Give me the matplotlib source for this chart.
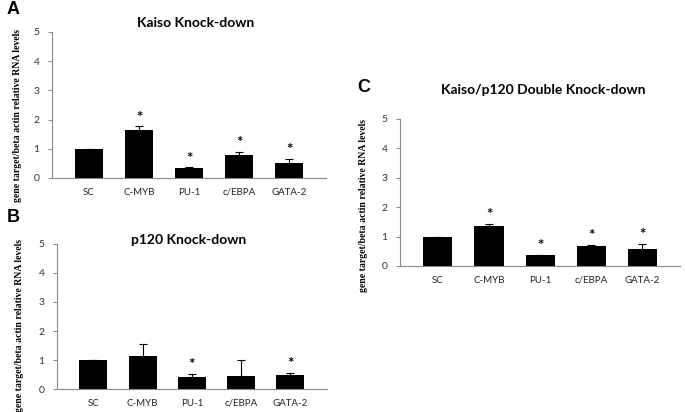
import matplotlib.pyplot as plt

genes = ['SC', 'C-MYB', 'PU-1', 'c/EBPA', 'GATA-2']

kaiso_vals = [1.0, 1.63, 0.33, 0.78, 0.50]
kaiso_err = [0.0, 0.14, 0.03, 0.12, 0.16]
kaiso_sig = [False, True, True, True, True]

p120_vals = [1.0, 1.15, 0.42, 0.45, 0.47]
p120_err = [0.0, 0.40, 0.10, 0.55, 0.08]
p120_sig = [False, False, True, False, True]

double_vals = [1.0, 1.37, 0.38, 0.68, 0.58]
double_err = [0.0, 0.07, 0.0, 0.04, 0.18]
double_sig = [False, True, True, True, True]

ylabel = 'gene target/beta actin relative RNA levels'
plt.rcParams['font.family'] = ['Lato', 'DejaVu Sans']

W, H = 685, 412
fig = plt.figure(figsize=(6.85, 4.12), dpi=100)


def panel(rect, title, title_xy, vals, err, sig, letter, letter_xy, ylab_xy):
    ax = fig.add_axes(rect)
    x = list(range(len(genes)))
    ax.bar(x, vals, width=0.57, color='black', zorder=2)
    ax.errorbar(x, vals, yerr=[[0] * len(err), err], fmt='none',
                ecolor='black', elinewidth=0.8, capsize=3, capthick=0.8, zorder=3)
    for i in x:
        if sig[i]:
            ax.text(i, vals[i] + err[i] + 0.06, '*', ha='center', va='bottom',
                    fontsize=11, fontweight='bold', color='black')
    ax.set_xlim(-0.74, 4.74)
    ax.set_ylim(0, 5)
    ax.set_yticks(range(6))
    ax.set_xticks(x)
    ax.set_xticklabels(genes, fontsize=7, color='#222222')
    ax.tick_params(axis='x', length=0, pad=7)
    ax.tick_params(axis='y', length=3, width=0.7, color='#888888',
                   labelsize=7.5, labelcolor='#333333', pad=6)
    for s in ['top', 'right']:
        ax.spines[s].set_visible(False)
    for s in ['left', 'bottom']:
        ax.spines[s].set_color('#888888')
        ax.spines[s].set_linewidth(0.8)
    fig.text(title_xy[0] / W, 1 - title_xy[1] / H, title, fontsize=10,
             fontweight='bold', ha='center', va='center')
    fig.text(letter_xy[0] / W, 1 - letter_xy[1] / H, letter, fontsize=13,
             fontweight='bold', family=['Liberation Sans'], ha='left', va='center')
    fig.text(ylab_xy[0] / W, 1 - ylab_xy[1] / H, ylabel, rotation=90,
             fontsize=7, fontweight='bold', family=['Liberation Serif'],
             ha='center', va='center')
    return ax


panel([0.0759, 0.568, 0.40, 0.3544], 'Kaiso Knock-down', (196, 23),
      kaiso_vals, kaiso_err, kaiso_sig, 'A', (7, 10), (18, 116))
panel([0.0832, 0.0558, 0.394, 0.352], 'p120 Knock-down', (189, 240),
      p120_vals, p120_err, p120_sig, 'B', (7, 218), (20, 325))
panel([0.584, 0.3544, 0.409, 0.3568], 'Kaiso/p120 Double Knock-down', (543, 90),
      double_vals, double_err, double_sig, 'C', (357, 88), (364, 205))

fig.savefig('out.png', dpi=100)
